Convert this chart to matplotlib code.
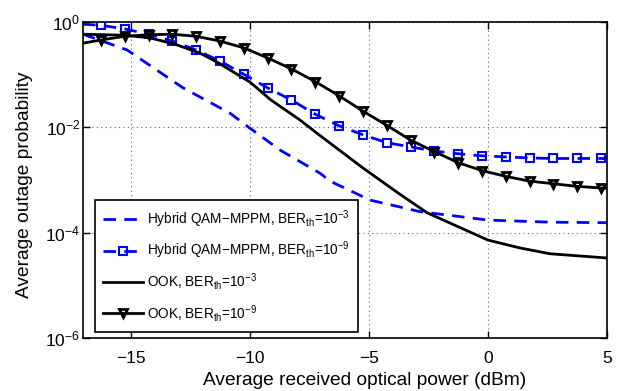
import matplotlib.pyplot as plt
import numpy as np

plt.rcParams['font.family'] = ['Liberation Sans', 'DejaVu Sans']
plt.rcParams['mathtext.fontset'] = 'custom'
plt.rcParams['mathtext.rm'] = 'Liberation Sans'
plt.rcParams['mathtext.it'] = 'Liberation Sans:italic'

# values are log10 of the outage probability

# Hybrid QAM-MPPM, BER_th = 1e-3
qam3_x = [-17.0, -15.15, -12.8, -10.83, -10.07, -8.73, -7.05, -6.63, -4.95, -2.85, 0.0, 2.61, 5.0]
qam3_log = [-0.23, -0.53, -1.25, -1.73, -1.99, -2.43, -2.87, -3.02, -3.38, -3.6, -3.76, -3.8, -3.81]

# OOK, BER_th = 1e-3
ook3_x = [-17.0, -15.24, -14.19, -13.14, -12.09, -11.37, -9.99, -9.11, -7.89, -7.18,
          -5.25, -3.82, -2.56, 0.0, 1.35, 2.61, 5.0]
ook3_log = [-0.23, -0.25, -0.3, -0.42, -0.59, -0.76, -1.14, -1.48, -1.86, -2.11,
            -2.77, -3.23, -3.62, -4.14, -4.29, -4.4, -4.48]

# marker positions shared by the two BER_th = 1e-9 curves
mark_x = [-16.25, -15.25, -14.25, -13.25, -12.25, -11.25, -10.25, -9.25, -8.25, -7.25, -6.25,
          -5.25, -4.25, -3.25, -2.25, -1.25, -0.25, 0.75, 1.75, 2.75, 3.75, 4.75]

# Hybrid QAM-MPPM, BER_th = 1e-9
qam9_log = [-0.06, -0.13, -0.23, -0.36, -0.53, -0.74, -0.99, -1.25, -1.48, -1.75, -1.97,
            -2.14, -2.29, -2.37, -2.45, -2.5, -2.54, -2.56, -2.58, -2.59, -2.59, -2.59]
qam9_ends = [-0.04, -2.595]

# OOK, BER_th = 1e-9
ook9_log = [-0.34, -0.27, -0.24, -0.23, -0.27, -0.36, -0.49, -0.68, -0.89, -1.13, -1.4,
            -1.69, -1.96, -2.24, -2.46, -2.67, -2.82, -2.93, -3.02, -3.07, -3.12, -3.15]
ook9_ends = [-0.4, -3.16]

labels = [r'Hybrid QAM$-$MPPM, BER$_{\rm th}$=10$^{-3}$',
          r'Hybrid QAM$-$MPPM, BER$_{\rm th}$=10$^{-9}$',
          r'OOK, BER$_{\rm th}$=10$^{-3}$',
          r'OOK, BER$_{\rm th}$=10$^{-9}$']

fig = plt.figure(figsize=(6.2, 3.91), dpi=100)
ax = fig.add_axes([0.134, 0.1355, 0.845, 0.808])

blue = '#0000ff'
dash = (0, (4.5, 3))

ax.plot(qam3_x, 10 ** np.array(qam3_log), color=blue, lw=2, linestyle=dash, label=labels[0])

x9 = [-17.0] + mark_x + [5.0]
every = list(range(1, len(mark_x) + 1))
y_qam9 = [qam9_ends[0]] + qam9_log + [qam9_ends[1]]
ax.plot(x9, 10 ** np.array(y_qam9), color=blue, lw=2, linestyle=dash, marker='s',
        markersize=5.5, mfc='none', mew=1.5, markevery=every, label=labels[1])

ax.plot(ook3_x, 10 ** np.array(ook3_log), color='black', lw=2, label=labels[2])

y_ook9 = [ook9_ends[0]] + ook9_log + [ook9_ends[1]]
ax.plot(x9, 10 ** np.array(y_ook9), color='black', lw=2, marker='v',
        markersize=6, mfc='none', mew=2, markevery=every, label=labels[3])

ax.set_yscale('log')
ax.set_xlim(-17, 5)
ax.set_ylim(1e-6, 1)
ax.set_xticks([-15, -10, -5, 0, 5])
ax.set_xticklabels(['\u221215', '\u221210', '\u22125', '0', '5'])
ax.set_yticks([1e-6, 1e-4, 1e-2, 1])
ax.set_yticklabels([r'10$^{-6}$', r'10$^{-4}$', r'10$^{-2}$', r'10$^{0}$'])
ax.minorticks_off()
ax.tick_params(direction='in', length=5, width=1, top=True, right=True, labelsize=12.5)
ax.tick_params(axis='x', pad=9)
ax.tick_params(axis='y', pad=2)
ax.grid(True, color='#666666', linestyle=(0, (1, 3)), lw=0.8)
for s in ax.spines.values():
    s.set_linewidth(1.2)

ax.set_xlabel('Average received optical power (dBm)', fontsize=13.8)
ax.set_ylabel('Average outage probability', fontsize=13.8)
ax.xaxis.set_label_coords(0.538, -0.108)
ax.yaxis.set_label_coords(-0.095, 0.486)

leg = ax.legend(loc='lower left', bbox_to_anchor=(0.022, 0.02), fontsize=9.8,
                fancybox=False, edgecolor='black', framealpha=1, handlelength=2.95,
                handletextpad=0.3, labelspacing=0.74, borderpad=0.6, borderaxespad=0)
leg.get_frame().set_linewidth(1.2)

fig.savefig('out.png', dpi=100)
